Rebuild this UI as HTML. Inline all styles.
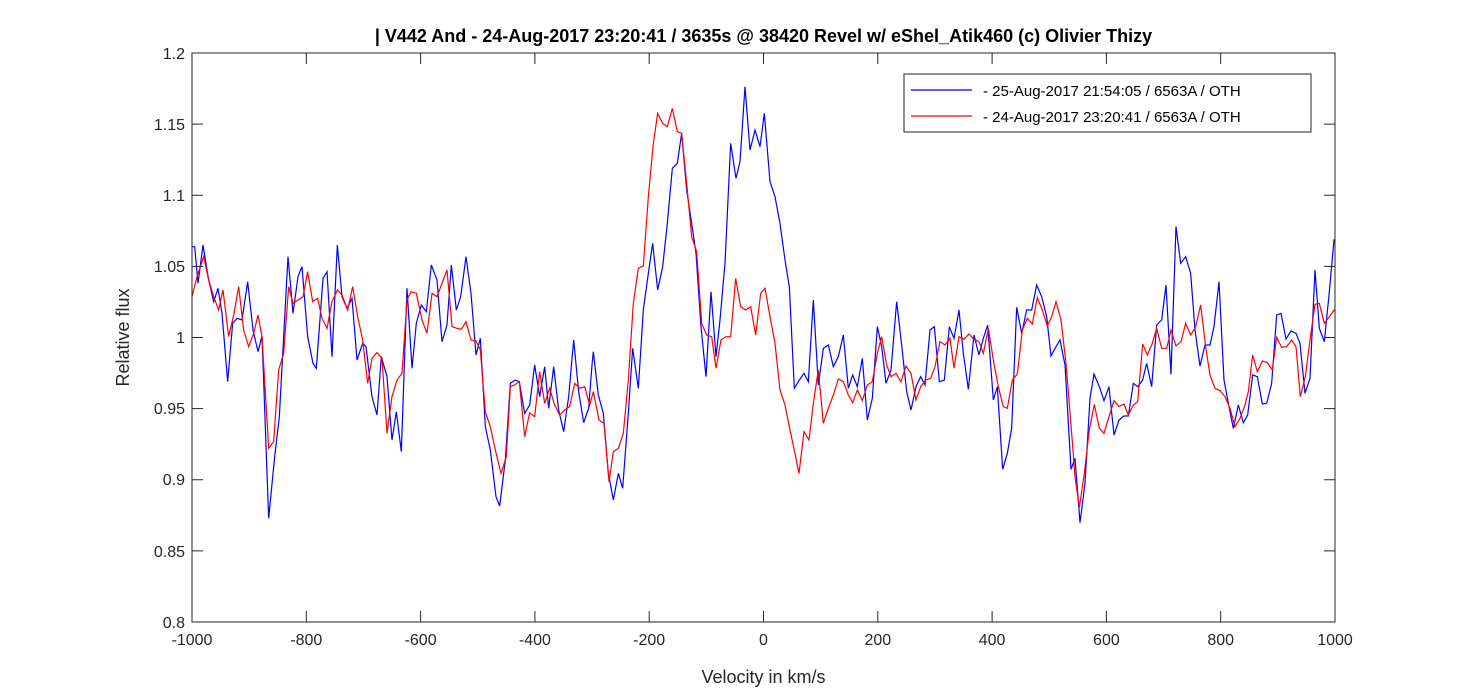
<!DOCTYPE html>
<html><head><meta charset="utf-8"><style>
body{margin:0;background:#fff;}
svg{display:block;font-family:"Liberation Sans",Arial,sans-serif;}
</style></head><body>
<svg width="1475" height="698" viewBox="0 0 1475 698" xmlns="http://www.w3.org/2000/svg">
<rect width="1475" height="698" fill="#fff"/>
<defs><clipPath id="c"><rect x="192" y="53" width="1143" height="569"/></clipPath></defs>
<g fill="none" stroke-width="1.2" clip-path="url(#c)">
<g transform="translate(192,230) scale(0.33333)">
<polyline vector-effect="non-scaling-stroke" stroke="#0000ff" points="0,50 8,50 18,160 33,45 50,150 65,215 78,175 90,250 107,455 122,280 135,265 150,270 167,155 183,300 198,365 210,318 230,865 248,680 262,560 288,80 303,250 318,140 330,110 347,320 363,400 373,415 393,145 405,125 420,380 436,45 450,200 465,235 480,205 495,390 512,340 522,350 540,500 555,555 568,380 585,440 600,630 613,545 628,665 645,175 660,415 673,280 688,225 703,245 718,105 735,150 750,335 765,285 778,105 793,240 806,200 822,80 837,190 852,375 865,325 880,590 895,660 912,800 923,828 940,690 955,460 970,450 982,455 998,550 1013,525 1028,405 1043,500 1058,410 1070,535 1085,410 1100,540 1115,605 1130,500 1145,330 1160,485 1175,578 1190,535 1200,405"/>
<polyline vector-effect="non-scaling-stroke" stroke="#ff0000" points="0,200 15,140 35,80 50,150 65,200 80,240 93,180 110,320 125,255 140,170 155,300 170,350 185,310 198,255 210,320 230,655 245,635 260,420 275,370 290,170 303,220 318,210 333,200 347,125 362,215 377,205 390,265 405,295 420,215 436,180 450,195 467,240 482,170 497,260 512,330 527,460 540,385 555,368 570,385 585,610 600,500 615,450 630,430 645,210 657,185 673,190 690,270 705,310 720,190 735,200 750,160 765,120 780,290 795,295 808,298 822,275 837,330 852,333 865,360 880,545 895,590 910,660 927,730 943,680 955,470 968,465 982,455 998,620 1013,548 1028,560 1043,425 1058,520 1073,475 1088,525 1103,555 1118,540 1133,530 1148,460 1163,475 1178,470 1193,525 1200,500"/>
</g>
<g transform="translate(580,80) scale(0.33333)">
<polyline vector-effect="non-scaling-stroke" stroke="#0000ff" points="36,855 40,815 55,945 70,1000 85,1180 100,1260 115,1180 128,1225 145,1000 158,805 175,925 190,690 205,580 218,490 233,630 248,560 262,430 277,265 292,250 305,160 320,330 335,430 348,520 363,740 378,890 393,635 408,830 420,720 435,550 452,190 468,295 480,245 495,20 510,210 525,150 540,200 553,100 570,305 585,350 600,430 615,540 628,620 643,925 658,900 672,880 685,905 700,660 715,915 730,805 745,795 760,860 775,830 790,765 805,925 818,885 832,920 847,835 862,1020 877,955 892,740 905,800 918,910 933,870 950,665 965,795 980,935 993,990 1008,920 1022,890 1035,915 1050,750 1063,740 1078,905 1093,900 1108,740 1122,775 1137,690 1150,820 1165,928 1182,765 1197,825"/>
<polyline vector-effect="non-scaling-stroke" stroke="#ff0000" points="36,950 40,935 57,1020 72,1030 87,1205 100,1115 115,1105 130,1060 145,900 160,670 175,565 190,558 205,350 220,190 233,100 248,130 262,140 277,85 292,155 305,160 320,310 335,470 350,515 365,730 380,765 395,770 408,865 423,780 438,770 452,770 467,595 482,680 497,690 512,680 527,765 542,640 555,625 570,710 585,790 600,930 615,975 630,1050 645,1120 657,1180 672,1055 687,1080 700,970 715,870 730,1030 745,985 760,945 775,897 790,905 805,945 818,968 832,930 847,962 862,915 877,905 892,820 905,770 920,855 933,890 948,880 963,905 978,858 993,880 1008,960 1022,920 1037,900 1052,895 1065,860 1080,785 1095,795 1110,775 1122,865 1137,770 1152,778 1167,762 1182,778 1197,785"/>
</g>
<g transform="translate(960,220) scale(0.33333)">
<polyline vector-effect="non-scaling-stroke" stroke="#0000ff" points="57,405 70,355 83,315 100,540 112,500 128,748 142,700 155,625 170,262 185,340 200,270 215,270 230,195 245,230 260,290 273,408 288,380 300,360 315,435 333,748 345,715 360,908 375,790 390,535 402,462 418,500 432,542 447,500 462,645 477,600 492,588 505,588 520,490 533,500 548,480 560,430 575,500 590,315 605,300 618,195 633,463 648,20 662,130 677,110 692,160 705,330 720,438 735,375 750,375 762,320 777,185 792,480 807,560 820,625 835,555 850,608 863,585 878,465 892,470 907,552 920,550 935,490 950,285 963,280 978,357 993,333 1008,340 1020,370 1035,520 1050,475 1065,150 1078,325 1093,365 1108,215 1122,60 1130,55"/>
<polyline vector-effect="non-scaling-stroke" stroke="#ff0000" points="57,365 70,400 85,325 100,420 115,500 130,560 142,565 157,480 172,462 187,330 202,295 217,312 232,233 247,270 262,318 275,290 288,245 303,300 318,430 335,640 345,770 358,862 373,760 388,630 403,553 418,625 432,640 447,590 462,542 477,560 492,552 505,585 520,555 533,545 548,372 562,405 577,370 590,325 605,385 620,385 633,330 648,378 663,365 677,310 692,345 707,320 722,255 737,380 750,465 765,505 780,512 795,530 810,565 825,620 840,595 855,555 865,515 878,405 892,455 907,423 922,428 937,450 950,352 965,382 980,380 995,360 1008,380 1021,530 1036,470 1050,360 1065,253 1078,250 1093,310 1108,290 1130,260"/>
</g>
</g>
<rect x="192" y="53" width="1143" height="569" fill="none" stroke="#262626" stroke-width="1"/>
<g stroke="#262626" stroke-width="1">
<path d="M306.3,622v-11M420.6,622v-11M534.9,622v-11M649.2,622v-11M763.5,622v-11M877.8,622v-11M992.1,622v-11M1106.4,622v-11M1220.7,622v-11"/>
<path d="M306.3,53v11M420.6,53v11M534.9,53v11M649.2,53v11M763.5,53v11M877.8,53v11M992.1,53v11M1106.4,53v11M1220.7,53v11"/>
<path d="M192,124.1h11M192,195.2h11M192,266.4h11M192,337.5h11M192,408.6h11M192,479.8h11M192,550.9h11"/>
<path d="M1335,124.1h-11M1335,195.2h-11M1335,266.4h-11M1335,337.5h-11M1335,408.6h-11M1335,479.8h-11M1335,550.9h-11"/>
</g>
<g font-size="16" fill="#262626" text-anchor="end">
<text x="185" y="59">1.2</text><text x="185" y="130">1.15</text><text x="185" y="201">1.1</text><text x="185" y="272">1.05</text><text x="185" y="343">1</text><text x="185" y="414">0.95</text><text x="185" y="485">0.9</text><text x="185" y="557">0.85</text><text x="185" y="628">0.8</text>
</g>
<g font-size="16" fill="#262626" text-anchor="middle">
<text x="192" y="645">-1000</text><text x="306.3" y="645">-800</text><text x="420.6" y="645">-600</text><text x="534.9" y="645">-400</text><text x="649.2" y="645">-200</text><text x="763.5" y="645">0</text><text x="877.8" y="645">200</text><text x="992.1" y="645">400</text><text x="1106.4" y="645">600</text><text x="1220.7" y="645">800</text><text x="1335" y="645">1000</text>
</g>
<text x="763.5" y="683" font-size="18" fill="#262626" text-anchor="middle">Velocity in km/s</text>
<text transform="translate(129,337.5) rotate(-90)" font-size="18" fill="#262626" text-anchor="middle">Relative flux</text>
<text x="763.5" y="42" font-size="18" font-weight="bold" fill="#000" text-anchor="middle">| V442 And - 24-Aug-2017 23:20:41 / 3635s @ 38420 Revel w/ eShel_Atik460 (c) Olivier Thizy</text>
<rect x="904" y="74" width="407" height="58" fill="#fff" stroke="#262626" stroke-width="1"/>
<line x1="911" y1="90" x2="972" y2="90" stroke="#0000ff" stroke-width="1.2"/>
<line x1="911" y1="116" x2="972" y2="116" stroke="#ff0000" stroke-width="1.2"/>
<text x="983" y="96" font-size="15" fill="#000">- 25-Aug-2017 21:54:05 / 6563A / OTH</text>
<text x="983" y="122" font-size="15" fill="#000">- 24-Aug-2017 23:20:41 / 6563A / OTH</text>
</svg>
</body></html>
